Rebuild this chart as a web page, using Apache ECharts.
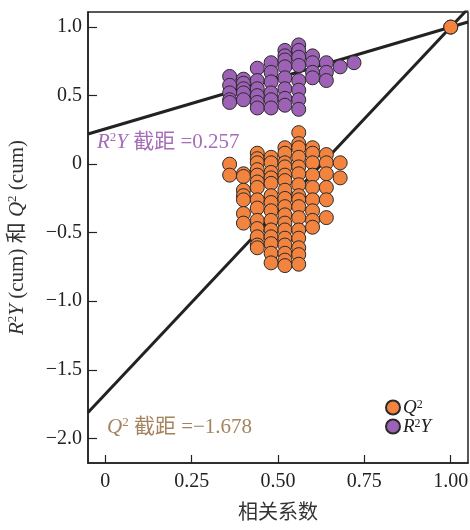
<!DOCTYPE html>
<html>
<head>
<meta charset="utf-8">
<script src="https://cdn.jsdelivr.net/npm/echarts@6/dist/echarts.min.js"></script>
<style>
  html, body { margin: 0; padding: 0; background: #fff; }
  #chart { width: 470px; height: 530px; }
</style>
</head>
<body>
<div id="chart"></div>
<script>
// Permutation test: correlation coefficient vs R2Y(cum) / Q2(cum)
const columnX = [0.36, 0.40, 0.44, 0.48, 0.52, 0.56, 0.60, 0.64, 0.68, 0.72];

const r2yByColumn = [
  [0.64, 0.575, 0.52, 0.47, 0.45],
  [0.62, 0.59, 0.55, 0.52, 0.47],
  [0.70, 0.61, 0.55, 0.50, 0.45, 0.41],
  [0.74, 0.67, 0.60, 0.52, 0.47, 0.41],
  [0.83, 0.79, 0.76, 0.71, 0.63, 0.55, 0.48, 0.43],
  [0.87, 0.83, 0.78, 0.72, 0.61, 0.54, 0.47, 0.40],
  [0.79, 0.74, 0.67, 0.63],
  [0.74, 0.67, 0.61],
  [0.71],
  [0.74]
];

const q2ByColumn = [
  [0.00, -0.08],
  [-0.07, -0.09, -0.19, -0.23, -0.26, -0.36, -0.43],
  [0.08, 0.04, 0.01, -0.04, -0.08, -0.13, -0.17, -0.26, -0.32, -0.41, -0.47, -0.53, -0.59, -0.61],
  [0.05, 0.01, -0.06, -0.10, -0.14, -0.23, -0.28, -0.34, -0.41, -0.48, -0.53, -0.58, -0.65, -0.72],
  [0.12, 0.08, 0.01, -0.02, -0.08, -0.12, -0.19, -0.25, -0.31, -0.37, -0.43, -0.48, -0.54, -0.59, -0.65, -0.70, -0.74],
  [0.23, 0.15, 0.12, 0.05, -0.02, -0.07, -0.15, -0.23, -0.26, -0.31, -0.39, -0.48, -0.54, -0.61, -0.66, -0.73],
  [0.12, 0.08, 0.01, -0.08, -0.17, -0.26, -0.34, -0.41, -0.46],
  [0.07, 0.01, -0.07, -0.17, -0.26, -0.39],
  [0.01, -0.10],
  []
];

// original (unpermuted) model
const originalX = 1.0;
const originalR2Y = 1.0;
const originalQ2 = 1.0;

// regression intercepts
const r2yIntercept = 0.257;
const q2Intercept = -1.678;

const xTicks = [0, 0.25, 0.5, 0.75, 1.0];
const yTicks = [-2.0, -1.5, -1.0, -0.5, 0, 0.5, 1.0];
const xRange = [-0.05, 1.05];
const yRange = [-2.18, 1.11];

function toPoints(cols) {
  const pts = [];
  cols.forEach((ys, i) => ys.forEach(y => pts.push([columnX[i], y])));
  return pts;
}
function fitLine(intercept, x1, y1) {
  const slope = (y1 - intercept) / x1;
  return xRange.map(x => [x, intercept + slope * x]);
}

const r2yPoints = toPoints(r2yByColumn).concat([[originalX, originalR2Y]]);
const q2Points = toPoints(q2ByColumn).concat([[originalX, originalQ2]]);

const serif = 'Liberation Serif, "Times New Roman", "Noto Sans CJK SC", serif';
const mixed = 'Liberation Serif, "Noto Sans CJK SC", serif';
const ORANGE = '#F3843F';
const PURPLE = '#9D62B6';
const INK = '#222';
const LABEL = '#333';
const R2Y_TEXT = '#A66DB8';
const Q2_TEXT = '#A4835E';

const chart = echarts.init(document.getElementById('chart'), null, { renderer: 'canvas' });

// rich-text pieces for axis names / legend (use `color`)
const rc = {
  italic: (c, s) => ({ fontFamily: serif, fontSize: s, fontStyle: 'italic', color: c, lineHeight: 22 }),
  sup: (c, s) => ({ fontFamily: serif, fontSize: s, color: c, verticalAlign: 'top', lineHeight: 22 }),
  plain: (c, s) => ({ fontFamily: mixed, fontSize: s, color: c, lineHeight: 22 })
};
// rich-text pieces for graphic text elements (use `fill`)
const rf = {
  italic: (c, s) => ({ fontFamily: serif, fontSize: s, fontStyle: 'italic', fill: c, lineHeight: 22 }),
  sup: (c, s) => ({ fontFamily: serif, fontSize: s, fill: c, verticalAlign: 'top', lineHeight: 22 }),
  plain: (c, s) => ({ fontFamily: mixed, fontSize: s, fill: c, lineHeight: 22 })
};

chart.setOption({
  animation: false,
  backgroundColor: '#fff',
  grid: {
    left: 88, right: 2, top: 12, bottom: 67,
    containLabel: false,
    outerBoundsMode: 'none',
    show: true, borderColor: INK, borderWidth: 1.5, backgroundColor: 'transparent'
  },
  xAxis: {
    type: 'value',
    min: xRange[0], max: xRange[1],
    name: '相关系数',
    nameLocation: 'middle',
    nameGap: 38,
    nameTextStyle: { fontFamily: '"Noto Sans CJK SC", sans-serif', fontSize: 20, color: LABEL },
    splitLine: { show: false },
    axisLine: { show: true, onZero: false, lineStyle: { color: INK, width: 1.5 } },
    axisTick: { show: true, inside: true, length: 8, customValues: xTicks, lineStyle: { color: INK, width: 1.2 } },
    axisLabel: {
      customValues: xTicks, margin: 9,
      fontFamily: serif, fontSize: 20, color: INK,
      formatter: v => (v === 0 ? '0' : v.toFixed(2))
    }
  },
  yAxis: {
    type: 'value',
    min: yRange[0], max: yRange[1],
    name: '{i|R}{s|2}{i|Y}{n| (cum) 和 }{i|Q}{s|2}{n| (cum)}',
    nameLocation: 'middle',
    nameGap: 60,
    nameRotate: 90,
    nameTextStyle: {
      rich: { i: rc.italic(LABEL, 21), s: rc.sup(LABEL, 13), n: rc.plain(LABEL, 21) }
    },
    splitLine: { show: false },
    axisLine: { show: true, onZero: false, lineStyle: { color: INK, width: 1.5 } },
    axisTick: { show: true, inside: true, length: 9, customValues: yTicks, lineStyle: { color: INK, width: 1.2 } },
    axisLabel: {
      customValues: yTicks, margin: 6,
      fontFamily: serif, fontSize: 20, color: INK,
      formatter: v => (v === 0 ? '0' : (v < 0 ? '\u2212' : '') + Math.abs(v).toFixed(1))
    }
  },
  legend: {
    orient: 'vertical',
    left: 380, top: 393,
    itemWidth: 14, itemHeight: 14, itemGap: 0,
    data: [
      { name: 'Q2', icon: 'circle' },
      { name: 'R2Y', icon: 'circle' }
    ],
    formatter: n => (n === 'Q2' ? '{i|Q}{s|2}' : '{i|R}{s|2}{i|Y}'),
    textStyle: {
      padding: [0, 0, 0, -2],
      rich: { i: Object.assign(rc.italic(INK, 19), { lineHeight: 18 }), s: Object.assign(rc.sup(INK, 12), { lineHeight: 18 }) }
    }
  },
  series: [
    {
      name: 'R2Y fit', type: 'line', data: fitLine(r2yIntercept, originalX, originalR2Y),
      showSymbol: false, symbol: 'none', clip: true, z: 1, silent: true,
      lineStyle: { color: INK, width: 3 }
    },
    {
      name: 'Q2 fit', type: 'line', data: fitLine(q2Intercept, originalX, originalQ2),
      showSymbol: false, symbol: 'none', clip: true, z: 1, silent: true,
      lineStyle: { color: INK, width: 3 }
    },
    {
      name: 'R2Y', type: 'scatter', data: r2yPoints, symbolSize: 14, z: 3,
      itemStyle: { color: PURPLE, borderColor: '#2a2a2a', borderWidth: 1, opacity: 1 }
    },
    {
      name: 'Q2', type: 'scatter', data: q2Points, symbolSize: 14, z: 4,
      itemStyle: { color: ORANGE, borderColor: '#2a2a2a', borderWidth: 1, opacity: 1 }
    }
  ],
  graphic: [
    {
      type: 'text', left: 97, top: 131, z: 10,
      style: {
        text: '{i|R}{s|2}{i|Y}{n| 截距 =0.257}',
        rich: { i: rf.italic(R2Y_TEXT, 21), s: rf.sup(R2Y_TEXT, 13), n: rf.plain(R2Y_TEXT, 21) }
      }
    },
    {
      type: 'text', left: 107, top: 416, z: 10,
      style: {
        text: '{i|Q}{s|2}{n| 截距 =\u22121.678}',
        rich: { i: rf.italic(Q2_TEXT, 21), s: rf.sup(Q2_TEXT, 13), n: rf.plain(Q2_TEXT, 21) }
      }
    }
  ]
});
</script>
</body>
</html>
